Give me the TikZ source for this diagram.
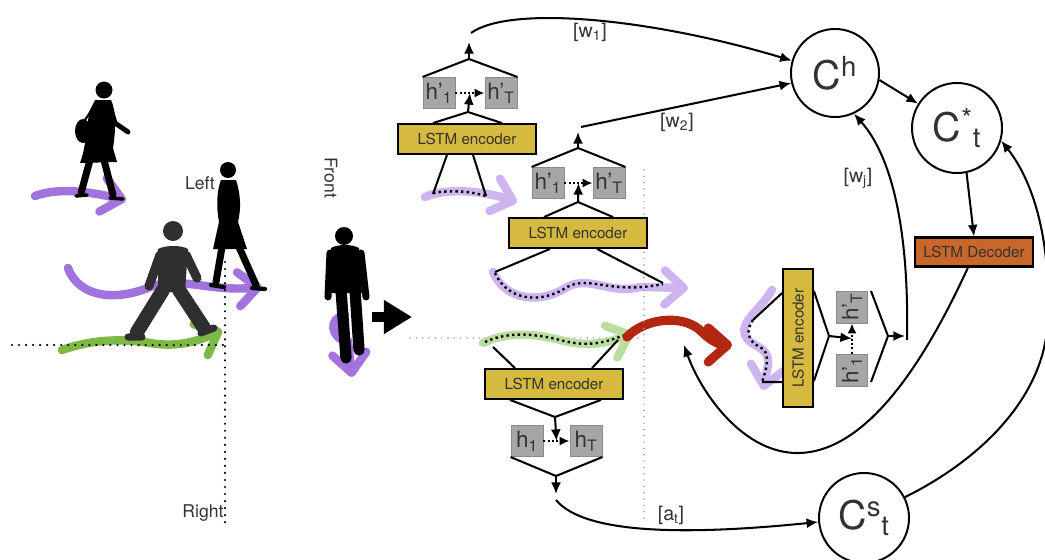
\documentclass[tikz,border=0pt]{standalone}
\usepackage{fontspec}
\setmainfont{TeX Gyre Heros}
\usepackage{xcolor}
\usepackage{tikz}
\usetikzlibrary{arrows.meta,positioning,calc}
\definecolor{Encoder}{HTML}{D6BA3F}
\definecolor{Decoder}{HTML}{C9672A}
\definecolor{Hidden}{HTML}{A6A6A6}
\definecolor{HiddenEdge}{HTML}{8A8A8A}
\definecolor{Walk}{HTML}{A272DE}
\definecolor{WalkPale}{HTML}{CDB5EF}
\definecolor{Grass}{HTML}{7DBA45}
\definecolor{GrassPale}{HTML}{BADDA2}
\definecolor{Turn}{HTML}{B3260F}
\definecolor{Ink}{HTML}{333333}
\definecolor{Man}{HTML}{2F2F2F}

\begin{document}
\begin{tikzpicture}[x=0.025cm,y=-0.025cm,
  encbox/.style={draw=black,line width=1.6pt,fill=Encoder,minimum width=3.45cm,minimum height=0.74cm,inner sep=0pt,text=Ink,font=\fontsize{10.8}{12}\selectfont},
  decbox/.style={draw=black,line width=1.6pt,fill=Decoder,minimum width=2.95cm,minimum height=0.72cm,inner sep=0pt,text=Ink,font=\fontsize{10.8}{12}\selectfont},
  hidbox/.style={draw=HiddenEdge,line width=0.6pt,fill=Hidden,minimum width=0.8cm,minimum height=0.78cm,inner sep=0pt,text=Ink,font=\fontsize{16}{17}\selectfont},
  ctx/.style={circle,draw=black,line width=1.4pt,fill=white,minimum size=2.25cm,inner sep=0pt,text=Ink,font=\fontsize{28}{30}\selectfont},
  lbl/.style={text=Ink,font=\fontsize{14}{15}\selectfont,inner sep=1pt},
  side/.style={text=Ink,font=\fontsize{12.5}{14}\selectfont,inner sep=1pt},
  tree/.style={line width=1.45pt},
  arr/.style={line width=1.45pt,-{Latex[length=2.9mm,width=2.5mm]}},
  dotarr/.style={line width=1.7pt,dash pattern=on 1.4pt off 1.6pt,-{Latex[length=2.5mm,width=2.3mm]}},
  trail/.style={line width=6pt,line cap=round,-{Straight Barb[length=4.8mm,width=8.5mm,round]}},
  dots/.style={line width=1.7pt,dash pattern=on 1.7pt off 2.3pt},
  guide/.style={line width=1.2pt,gray!80,line cap=round,dash pattern=on 0pt off 4.5pt},
  axis/.style={line width=1.7pt,line cap=round,dash pattern=on 0pt off 5pt},
  walker/.style={fill=black},
  limb/.style={line cap=round,line join=round}]
\useasboundingbox (0,0) rectangle (1045,559);

% scene: walkers and their tracks
\draw[trail,Walk] (35,196) .. controls (60,187) and (90,192) .. (126,200);
\draw[trail,Walk] (68,268) .. controls (80,300) and (120,300) .. (150,287) .. controls (180,276) and (210,292) .. (262,287);
\draw[trail,Grass] (62,350) .. controls (90,340) and (120,338) .. (150,343) .. controls (180,348) and (200,340) .. (222,330);
\draw[trail,Walk] (345,315) .. controls (328,318) and (330,338) .. (348,342) -- (352,377);

% woman with bag
\fill[walker] (104,90) circle (8.5);
\fill[walker] (95,100) -- (111,100) .. controls (116,110) and (116,130) .. (113,148) -- (117,162) -- (80,163) .. controls (85,150) and (87,130) .. (89,112) -- cycle;
\fill[walker] (83,131) ellipse [x radius=8,y radius=12];
\draw[limb,line width=1.5pt] (85,120) -- (97,102);
\draw[limb,line width=3.5pt] (110,106) -- (115,123) -- (128,132);
\draw[limb,line width=5pt] (90,160) -- (81,193) (104,160) -- (113,195);
\draw[limb,line width=2.5pt] (76,196) -- (87,195) (110,198) -- (123,199);

% woman on the left
\fill[walker] (228,170) circle (8);
\fill[walker] (221,180) -- (236,180) .. controls (241,195) and (241,210) .. (238,222) -- (247,249) -- (213,249) -- (219,222) .. controls (216,205) and (217,190) .. (221,180) -- cycle;
\draw[limb,line width=5pt] (222,247) -- (216,282) (239,247) -- (256,285);
\draw[limb,line width=3pt] (211,285) -- (224,287) (252,288) -- (265,289);

% walking man
\fill[Man] (173,231) circle (10);
\fill[Man] (158,249) .. controls (165,245) and (182,245) .. (188,249) -- (185,292) -- (158,292) -- cycle;
\draw[limb,draw=Man,line width=6.5pt] (160,255) -- (149,286) (186,255) -- (197,278);
\draw[limb,draw=Man,line width=10pt] (163,290) -- (137,332) (179,290) -- (204,328);
\draw[limb,draw=Man,line width=5pt] (128,337) -- (142,337) (201,333) -- (214,328);

% man seen from the front
\fill[walker] (344,236) circle (9);
\fill[walker] (331,248) .. controls (338,244) and (352,244) .. (359,248) -- (362,293) -- (332,293) -- cycle;
\draw[limb,line width=5pt] (330,253) -- (328,297) (361,253) -- (366,297);
\draw[limb,line width=8pt] (341,290) -- (346,358) (355,290) -- (359,350);

\coordinate (xL) at (12,345); \coordinate (xR) at (225,345);
\coordinate (yT) at (225,262); \coordinate (yB) at (225,525);
\draw[axis] (xL) -- (xR);
\draw[axis] (yT) -- (yB);
\node[side] (left) at (200,183) {Left};
\node[side] (right) at (203,513) {Right};
\node[side,rotate=-90] (front) at (331,178) {Front};

\coordinate (bigS) at (372,317); \coordinate (bigE) at (412,317);
\draw[line width=7pt,-{Triangle[length=7mm,width=8mm]}] (bigS) -- (bigE);

% guides
\coordinate (gL) at (410,338); \coordinate (gR) at (644,338);
\draw[guide] (gL) -- (gR);

% tracks fed to the encoders
\draw[trail,WalkPale] (425,197) .. controls (445,188) and (480,190) .. (517,202);
\draw[dots] (433,193) .. controls (450,190) and (470,191) .. (486,196);
\draw[trail,WalkPale] (493,272) .. controls (505,300) and (540,305) .. (567,287) .. controls (590,275) and (610,295) .. (640,287) -- (688,288);
\draw[dots] (495,273) .. controls (507,300) and (540,305) .. (567,287) .. controls (590,275) and (610,295) .. (663,284);
\draw[trail,GrassPale] (483,343) .. controls (510,330) and (540,335) .. (560,340) .. controls (590,348) and (610,342) .. (633,333);
\draw[dots] (485,342) .. controls (510,330) and (540,335) .. (560,340) .. controls (590,348) and (605,342) .. (625,335);
\draw[trail,WalkPale] (772,290) .. controls (760,310) and (740,322) .. (745,335) .. controls (750,348) and (770,345) .. (768,365) -- (763,390);
\draw[dots] (753,320) .. controls (745,330) and (748,342) .. (760,347) .. controls (770,352) and (768,365) .. (762,382);
\draw[trail,Turn,line width=6.5pt,-{Straight Barb[length=4.8mm,width=8.5mm,round]}] (627,337) .. controls (645,318) and (685,313) .. (703,333) .. controls (712,342) and (722,345) .. (732,345);

\coordinate (gT) at (644,170); \coordinate (gB) at (644,524);
\draw[guide] (gT) -- (gB);

% context nodes and decoder
\node[ctx,minimum size=2.2cm] (Ch) at (835,73) {C\textsuperscript{h}};
\node[ctx] (Cstar) at (957,128) {C\textsuperscript{*}\textsubscript{t}};
\node[ctx] (Cs) at (864,518) {C\textsuperscript{s}\textsubscript{t}};
\node[decbox] (dec) at (974,252) {LSTM Decoder};

% encoder of the first neighbour
\node[encbox] (enc1) at (467,139) {LSTM encoder};
\node[hidbox] (hA1) at (439,93) {h'\textsubscript{1}};
\node[hidbox] (hAT) at (501,93) {h'\textsubscript{T}};
\coordinate (jA1) at (468,112); \coordinate (jA2) at (469,59);
\coordinate (outA) at (469,42); \coordinate (wA) at (471,33);
\coordinate (inA1) at (433,194); \coordinate (inA2) at (486,196);
\coordinate (mA) at ($(hA1.east)!.5!(hAT.west)$);
\draw[tree] ([xshift=-0.85cm]enc1.north) -- (jA1) -- ([xshift=0.875cm]enc1.north);
\draw[dotarr] (hA1) -- (hAT);
\draw[arr] (jA1) -- (mA);
\draw[tree] (hA1.north west) -- (jA2) -- (hAT.north east);
\draw[arr] (jA2) -- (outA);
\draw[tree] ([xshift=-0.5cm]enc1.south) -- (inA1);
\draw[tree] ([xshift=0.15cm]enc1.south) -- (inA2);

% encoder of the second neighbour
\node[encbox] (enc2) at (578,233) {LSTM encoder};
\node[hidbox] (hB1) at (548,183) {h'\textsubscript{1}};
\node[hidbox] (hBT) at (609,183) {h'\textsubscript{T}};
\coordinate (jB1) at (578,202); \coordinate (jB2) at (578,148);
\coordinate (outB) at (578,132); \coordinate (wB) at (581,127);
\coordinate (inB1) at (495,272); \coordinate (inB2) at (663,283);
\coordinate (mB) at ($(hB1.east)!.5!(hBT.west)$);
\draw[tree] ([xshift=-0.85cm]enc2.north) -- (jB1) -- ([xshift=0.875cm]enc2.north);
\draw[dotarr] (hB1) -- (hBT);
\draw[arr] (jB1) -- (mB);
\draw[tree] (hB1.north west) -- (jB2) -- (hBT.north east);
\draw[arr] (jB2) -- (outB);
\draw[tree] ([xshift=-0.7cm]enc2.south) -- (inB1);
\draw[tree] ([xshift=0.475cm]enc2.south) -- (inB2);

% encoder of the target
\node[encbox] (enc3) at (554,384) {LSTM encoder};
\node[hidbox] (hC1) at (527,441) {h\textsubscript{1}};
\node[hidbox] (hCT) at (586,441) {h\textsubscript{T}};
\coordinate (inC1) at (493,347); \coordinate (inC2) at (618,340);
\coordinate (jC1) at (555,417); \coordinate (jC2) at (556,476);
\coordinate (outC) at (556,494); \coordinate (aC) at (556,500);
\coordinate (mC) at ($(hC1.east)!.5!(hCT.west)$);
\draw[tree] (inC1) -- ([xshift=-0.975cm]enc3.north);
\draw[tree] (inC2) -- ([xshift=0.95cm]enc3.north);
\draw[tree] ([xshift=-1.1cm]enc3.south) -- (jC1) -- ([xshift=1.175cm]enc3.south);
\draw[arr] (jC1) -- (mC);
\draw[dotarr] (hC1) -- (hCT);
\draw[tree] (hC1.south west) -- (jC2) -- (hCT.south east);
\draw[arr] (jC2) -- (outC);

% encoder of the predicted track
\node[encbox,rotate=90] (enc4) at (798,338) {LSTM encoder};
\node[hidbox,rotate=90] (hD1) at (852,370) {h'\textsubscript{1}};
\node[hidbox,rotate=90] (hDT) at (852,307) {h'\textsubscript{T}};
\coordinate (inD1) at (753,320); \coordinate (inD2) at (762,382);
\coordinate (jD1) at (829,336); \coordinate (jD2) at (888,336);
\coordinate (lD1) at (871,291); \coordinate (lD2) at (871,382);
\coordinate (outD) at (905,336); \coordinate (wD) at (907,340);
\coordinate (mD) at ($(hD1)!.5!(hDT)$);
\draw[tree] ([yshift=1.125cm]enc4.north) -- (inD1);
\draw[tree] ([yshift=-1.1cm]enc4.north) -- (inD2);
\draw[tree] ([yshift=1.175cm]enc4.south) -- (jD1) -- ([yshift=-1.075cm]enc4.south);
\draw[arr] (jD1) -- (mD);
\draw[dotarr] (hD1) -- (hDT);
\draw[tree] (lD1) -- (jD2) -- (lD2);
\draw[arr] (jD2) -- (outD);

% attention weights into the context
\coordinate (loopE) at (684,345);
\draw[arr] (wA) .. controls (510,5) and (650,18) .. (Ch.164);
\draw[arr] (wB) -- (Ch.193);
\draw[arr] (wD) .. controls (909,240) and (895,160) .. (Ch.-65);
\draw[arr] (Ch.-9) -- (Cstar.148);
\draw[arr] (Cstar.-78) -- (dec.north);
\draw[arr] (aC) .. controls (585,535) and (690,535) .. (Cs.185);
\draw[arr] (Cs.27) .. controls (980,460) and (1040,400) .. (1047,330) .. controls (1052,260) and (1040,190) .. (Cstar.-16);
\draw[arr] ([xshift=-0.15cm]dec.south) .. controls (930,350) and (870,455) .. (795,453) .. controls (740,451) and (700,390) .. (loopE);

\node[lbl] (lw1) at (590,32) {[w\textsubscript{1}]};
\node[lbl] (lw2) at (677,122) {[w\textsubscript{2}]};
\node[lbl] (lwj) at (858,178) {[w\textsubscript{j}]};
\node[lbl] (lat) at (671,515) {[a\textsubscript{t}]};
\end{tikzpicture}
\end{document}
